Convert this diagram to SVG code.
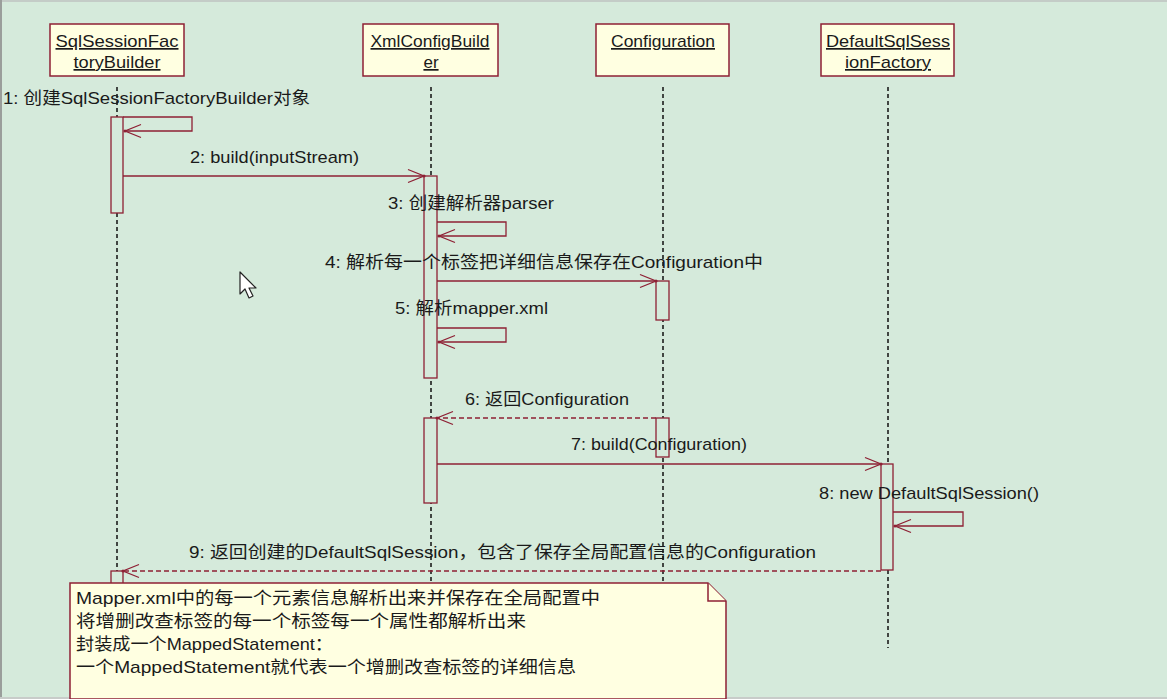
<svg xmlns="http://www.w3.org/2000/svg" width="1167" height="699" viewBox="0 0 1167 699">
<style>
.obj{fill:#FFFFE1;stroke:#8E2034;stroke-width:1.5}
.life{stroke:#111;stroke-width:1.5;stroke-dasharray:4 3;fill:none}
.act{fill:#D5EADB;stroke:#8E2034;stroke-width:1.3}
.msg{fill:none;stroke:#8E2034;stroke-width:1.3}
.ret{fill:none;stroke:#8E2034;stroke-width:1.3;stroke-dasharray:5 3}
.t{font-family:"Liberation Sans","Noto Sans CJK SC",sans-serif;font-size:17px;fill:#1a1a1a}
.title{font-family:"Liberation Sans","Noto Sans CJK SC",sans-serif;font-size:17px;fill:#1a1a1a;text-decoration:underline;text-anchor:middle}
.note{fill:#FFFFE1;stroke:#8E2034;stroke-width:1.5}
</style>
<defs>
<marker id="arr" viewBox="-18 -8 20 16" refX="0" refY="0" markerWidth="20" markerHeight="16" markerUnits="userSpaceOnUse" orient="auto">
<path d="M-16,-6.5 L0,0 L-16,6.5" fill="none" stroke="#8E2034" stroke-width="1.3"/>
<circle cx="0" cy="0" r="1.5" fill="#8E2034"/>
</marker>
</defs>
<rect x="0" y="0" width="1167" height="699" fill="#D5EADB"/>
<rect x="0" y="0" width="1167" height="2" fill="#C4CCC7"/>
<rect x="0" y="0" width="2" height="699" fill="#9A9E9B"/>
<rect x="0" y="697" width="1167" height="2" fill="#C8CCC9"/>

<g id="lifelines">
<line class="life" x1="117" y1="87" x2="117" y2="699"/>
<line class="life" x1="431" y1="87" x2="431" y2="699"/>
<line class="life" x1="663" y1="87" x2="663" y2="699"/>
<line class="life" x1="888" y1="87" x2="888" y2="648"/>
</g>

<g id="SqlSessionFactoryBuilder">
<rect class="obj" x="50" y="24" width="134" height="52"/>
<text class="title" x="117" y="47" textLength="123" lengthAdjust="spacingAndGlyphs">SqlSessionFac</text>
<text class="title" x="117" y="68" textLength="87" lengthAdjust="spacingAndGlyphs">toryBuilder</text>
</g>
<g id="XmlConfigBuilder">
<rect class="obj" x="363" y="24" width="135" height="52"/>
<text class="title" x="430" y="47" textLength="119" lengthAdjust="spacingAndGlyphs">XmlConfigBuild</text>
<text class="title" x="431" y="68">er</text>
</g>
<g id="Configuration">
<rect class="obj" x="596" y="24" width="133" height="52"/>
<text class="title" x="663" y="47" textLength="104" lengthAdjust="spacingAndGlyphs">Configuration</text>
</g>
<g id="DefaultSqlSessionFactory">
<rect class="obj" x="821" y="24" width="133" height="52"/>
<text class="title" x="888" y="47" textLength="124" lengthAdjust="spacingAndGlyphs">DefaultSqlSess</text>
<text class="title" x="888" y="68" textLength="86" lengthAdjust="spacingAndGlyphs">ionFactory</text>
</g>

<g id="activations">
<rect class="act" x="111" y="117" width="12" height="96"/>
<rect class="act" x="424" y="176" width="13" height="202"/>
<rect class="act" x="656" y="281" width="13" height="39"/>
<rect class="act" x="656" y="418" width="13" height="39"/>
<rect class="act" x="424" y="418" width="13" height="85"/>
<rect class="act" x="881" y="464" width="12" height="106"/>
<rect class="act" x="111" y="571" width="12" height="40"/>
</g>

<g id="connectors">
<path class="msg" d="M123,117 H192 V131 H125" marker-end="url(#arr)"/>
<path class="msg" d="M123,176 H424" marker-end="url(#arr)"/>
<path class="msg" d="M437,222 H506 V236 H439" marker-end="url(#arr)"/>
<path class="msg" d="M437,281 H656" marker-end="url(#arr)"/>
<path class="msg" d="M437,328 H506 V342 H439" marker-end="url(#arr)"/>
<path class="ret" d="M656,418 H437" marker-end="url(#arr)"/>
<path class="msg" d="M437,464 H881" marker-end="url(#arr)"/>
<path class="msg" d="M893,512 H963 V526 H895" marker-end="url(#arr)"/>
<path class="ret" d="M881,571 H123" marker-end="url(#arr)"/>
</g>

<g id="labels">
<text class="t" x="3" y="104" textLength="307" lengthAdjust="spacingAndGlyphs">1: 创建SqlSessionFactoryBuilder对象</text>
<text class="t" x="190" y="163" textLength="169" lengthAdjust="spacingAndGlyphs">2: build(inputStream)</text>
<text class="t" x="388" y="209" textLength="166" lengthAdjust="spacingAndGlyphs">3: 创建解析器parser</text>
<text class="t" x="325" y="268" textLength="438" lengthAdjust="spacingAndGlyphs">4: 解析每一个标签把详细信息保存在Configuration中</text>
<text class="t" x="395" y="314" textLength="153" lengthAdjust="spacingAndGlyphs">5: 解析mapper.xml</text>
<text class="t" x="465" y="405" textLength="164" lengthAdjust="spacingAndGlyphs">6: 返回Configuration</text>
<text class="t" x="571" y="450" textLength="176" lengthAdjust="spacingAndGlyphs">7: build(Configuration)</text>
<text class="t" x="819" y="499" textLength="220" lengthAdjust="spacingAndGlyphs">8: new DefaultSqlSession()</text>
<text class="t" x="189" y="558" textLength="627" lengthAdjust="spacingAndGlyphs">9: 返回创建的DefaultSqlSession，包含了保存全局配置信息的Configuration</text>
</g>

<g id="note">
<path class="note" d="M70,583 H708 L726,601 V699 H70 Z"/>
<path class="note" d="M708,583 V601 H726" fill="none"/>
<text class="t" x="76" y="604" textLength="524" lengthAdjust="spacingAndGlyphs">Mapper.xml中的每一个元素信息解析出来并保存在全局配置中</text>
<text class="t" x="76" y="627" textLength="450" lengthAdjust="spacingAndGlyphs">将增删改查标签的每一个标签每一个属性都解析出来</text>
<text class="t" x="76" y="650" textLength="257" lengthAdjust="spacingAndGlyphs">封装成一个MappedStatement：</text>
<text class="t" x="76" y="673" textLength="500" lengthAdjust="spacingAndGlyphs">一个MappedStatement就代表一个增删改查标签的详细信息</text>
</g>

<path d="M240,272 V294 L245,289 L249,298 L253,296 L249,288 L256,288 Z" fill="#fff" stroke="#222" stroke-width="1.2" stroke-linejoin="round"/>
</svg>
